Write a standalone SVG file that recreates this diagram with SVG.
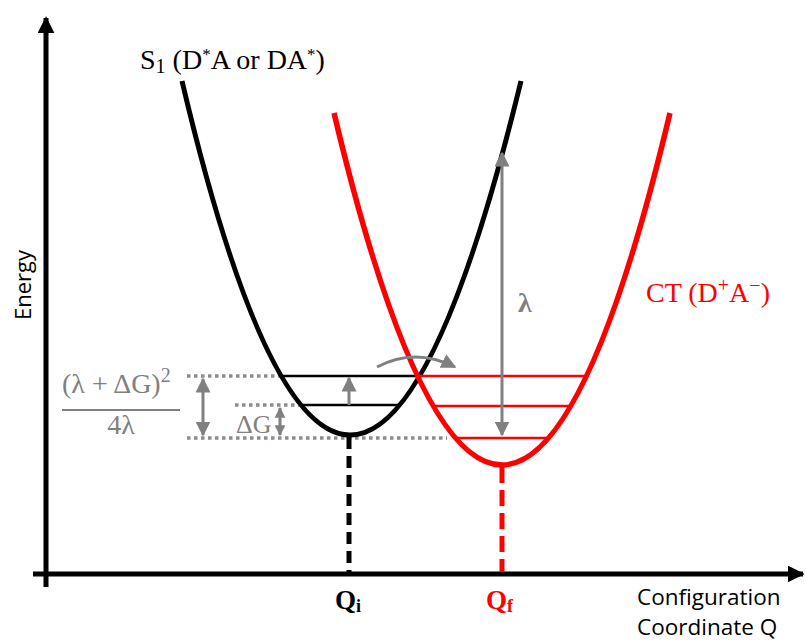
<svg xmlns="http://www.w3.org/2000/svg" width="806" height="644" viewBox="0 0 806 644">
<style>
.serif{font-family:"Liberation Serif","DejaVu Serif",serif}
.sans{font-family:"Open Sans","Liberation Sans",sans-serif}
.gray{fill:#808080}
.dot{stroke:#8c8c8c;stroke-width:3.5;stroke-dasharray:3.5 3.5;fill:none}
.garrow{stroke:#808080;stroke-width:3;fill:none}
</style>
<defs>
<marker id="ah" viewBox="0 0 10 10" refX="9" refY="5" markerWidth="5" markerHeight="5" orient="auto-start-reverse" markerUnits="strokeWidth">
<path d="M0,0 L10,5 L0,10 Z" fill="#808080"/>
</marker>
<marker id="ahs" viewBox="0 0 10 10" refX="9" refY="5" markerWidth="3.6" markerHeight="3.6" orient="auto-start-reverse" markerUnits="strokeWidth">
<path d="M0,0 L10,5 L0,10 Z" fill="#808080"/>
</marker>
<marker id="axh" viewBox="0 0 10 10" refX="9" refY="5" markerWidth="3.4" markerHeight="3.4" orient="auto" markerUnits="strokeWidth">
<path d="M0,0 L10,5 L0,10 Z" fill="#000"/>
</marker>
</defs>
<rect width="806" height="644" fill="#fff"/>
<g id="axes">
<line x1="46" y1="587" x2="46" y2="18" stroke="#000" stroke-width="5" marker-end="url(#axh)"/>
<line x1="33" y1="574" x2="803" y2="574" stroke="#000" stroke-width="5" marker-end="url(#axh)"/>
<text class="sans" font-size="22" transform="translate(31,285) rotate(-90)" text-anchor="middle">Energy</text>
<text class="sans" font-size="22.5" x="637" y="605">Configuration</text>
<text class="sans" font-size="22.5" x="637" y="635">Coordinate Q</text>
</g>
<g id="guides">
<line class="dot" x1="187" y1="376" x2="284" y2="376"/>
<line class="dot" x1="235" y1="405" x2="303" y2="405"/>
<line class="dot" x1="187" y1="438" x2="447" y2="438"/>
</g>
<g id="s1-curve">
<line x1="349" y1="437" x2="349" y2="572" stroke="#000" stroke-width="5" stroke-dasharray="12 7"/>
<line x1="282" y1="376" x2="419" y2="376" stroke="#000" stroke-width="2.5"/>
<line x1="301" y1="405" x2="399" y2="405" stroke="#000" stroke-width="2.5"/>
<path d="M182,81 Q349,789 521,81" fill="none" stroke="#000" stroke-width="5"/>
<text class="serif" font-size="28" x="140" y="69">S<tspan font-size="20" dy="4">1</tspan><tspan dy="-4"> (D</tspan><tspan font-size="17" dy="-9">*</tspan><tspan dy="9">A or DA</tspan><tspan font-size="17" dy="-9">*</tspan><tspan dy="9">)</tspan></text>
</g>
<g id="ct-curve">
<line x1="502" y1="467" x2="502" y2="572" stroke="#ff0000" stroke-width="5" stroke-dasharray="16 7"/>
<line x1="419" y1="376" x2="586" y2="376" stroke="#ff0000" stroke-width="2.5"/>
<line x1="433" y1="406" x2="571" y2="406" stroke="#ff0000" stroke-width="2.5"/>
<line x1="455" y1="438" x2="549" y2="438" stroke="#ff0000" stroke-width="2.5"/>
<path d="M334,113 Q502,817 670,113" fill="none" stroke="#ff0000" stroke-width="5.5"/>
<text class="serif" font-size="28" x="646" y="302" fill="#ff0000">CT (D<tspan font-size="20" dy="-10">+</tspan><tspan dy="10">A</tspan><tspan font-size="20" dy="-10">−</tspan><tspan dy="10">)</tspan></text>
</g>
<g id="connectors">
<line class="garrow" x1="203" y1="379" x2="203" y2="435" marker-start="url(#ah)" marker-end="url(#ah)"/>
<line class="garrow" x1="280" y1="408" x2="280" y2="435" marker-start="url(#ahs)" marker-end="url(#ahs)"/>
<line class="garrow" x1="349" y1="405" x2="349" y2="378" marker-end="url(#ah)"/>
<line class="garrow" x1="502" y1="153" x2="502" y2="435" marker-start="url(#ah)" marker-end="url(#ah)"/>
<path class="garrow" d="M377,367 Q415,347 455,367" marker-end="url(#ah)"/>
</g>
<g id="labels">
<text class="serif gray" font-size="28" x="518" y="312" font-weight="bold">λ</text>
<text class="serif gray" font-size="28" x="62" y="393">(λ + ΔG)<tspan font-size="20" dy="-11">2</tspan></text>
<line x1="62" y1="410" x2="180" y2="410" stroke="#808080" stroke-width="2"/>
<text class="serif gray" font-size="28" x="121" y="434" text-anchor="middle">4λ</text>
<text class="serif gray" font-size="26" x="236" y="433">ΔG</text>
<text class="serif" font-size="27" font-weight="bold" x="335" y="609">Q<tspan font-size="18" dy="3">i</tspan></text>
<text class="serif" font-size="27" font-weight="bold" x="486" y="609" fill="#ff0000">Q<tspan font-size="18" dy="3">f</tspan></text>
</g>
</svg>
